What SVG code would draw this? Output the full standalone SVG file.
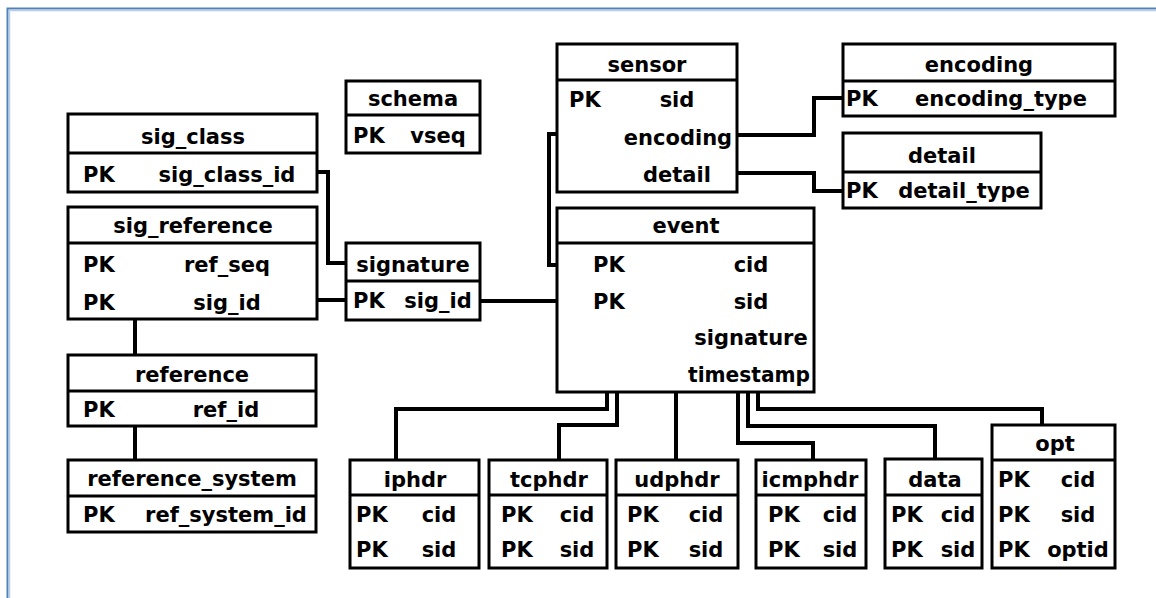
<svg xmlns="http://www.w3.org/2000/svg" width="1156" height="598" viewBox="0 0 1156 598">
<style>
.box{fill:#fff;stroke:#000;stroke-width:3}
.dv{stroke:#000;stroke-width:3}
.t{font-family:"DejaVu Sans","Verdana",sans-serif;font-weight:bold;font-size:21px;fill:#000}
.m{text-anchor:middle}
.conn{fill:none;stroke:#000;stroke-width:4}
</style>
<rect width="1156" height="598" fill="#fff"/>
<path d="M7.5,600 V8.5 H1160" fill="none" stroke="#4f81bd" stroke-width="2"/>
<path d="M9.5,600 V10.5 H1160" fill="none" stroke="#b9cde5" stroke-width="1.5"/>

<g id="connectors">
<path class="conn" d="M317,172 H328 V263 H346"/>
<path class="conn" d="M317,300 H346"/>
<path class="conn" d="M480,301 H557"/>
<path class="conn" d="M557,134 H549 V265 H557"/>
<path class="conn" d="M737,135 H814 V98 H843"/>
<path class="conn" d="M737,173 H814 V191 H843"/>
<path class="conn" d="M135,319 V355"/>
<path class="conn" d="M135,426 V460"/>
<path class="conn" d="M607,392 V409 H396 V460"/>
<path class="conn" d="M617,392 V425 H559 V460"/>
<path class="conn" d="M676,392 V460"/>
<path class="conn" d="M738,392 V443 H813 V460"/>
<path class="conn" d="M748,392 V426 H935 V459"/>
<path class="conn" d="M758,392 V409 H1042 V425"/>
</g>

<g id="schema">
<rect class="box" x="346" y="81" width="134" height="72"/>
<line class="dv" x1="346" y1="115" x2="480" y2="115"/>
<text class="t m" x="413" y="106">schema</text>
<text class="t" x="353" y="143">PK</text>
<text class="t m" x="438" y="143">vseq</text>
</g>

<g id="sig_class">
<rect class="box" x="68" y="114" width="249" height="78"/>
<line class="dv" x1="68" y1="153" x2="317" y2="153"/>
<text class="t m" x="193" y="144">sig_class</text>
<text class="t" x="83" y="182">PK</text>
<text class="t m" x="227" y="182">sig_class_id</text>
</g>

<g id="sig_reference">
<rect class="box" x="68" y="207" width="249" height="112"/>
<line class="dv" x1="68" y1="243" x2="317" y2="243"/>
<text class="t m" x="193" y="233">sig_reference</text>
<text class="t" x="83" y="272">PK</text>
<text class="t m" x="227" y="272">ref_seq</text>
<text class="t" x="83" y="310">PK</text>
<text class="t m" x="227" y="310">sig_id</text>
</g>

<g id="reference">
<rect class="box" x="68" y="355" width="248" height="71"/>
<line class="dv" x1="68" y1="391" x2="316" y2="391"/>
<text class="t m" x="192" y="382">reference</text>
<text class="t" x="83" y="417">PK</text>
<text class="t m" x="226" y="417">ref_id</text>
</g>

<g id="reference_system">
<rect class="box" x="68" y="460" width="248" height="72"/>
<line class="dv" x1="68" y1="496" x2="316" y2="496"/>
<text class="t m" x="192" y="486">reference_system</text>
<text class="t" x="83" y="522">PK</text>
<text class="t m" x="226" y="522">ref_system_id</text>
</g>

<g id="signature">
<rect class="box" x="346" y="243" width="134" height="77"/>
<line class="dv" x1="346" y1="281" x2="480" y2="281"/>
<text class="t m" x="413" y="272">signature</text>
<text class="t" x="353" y="308">PK</text>
<text class="t m" x="438" y="308">sig_id</text>
</g>

<g id="sensor">
<rect class="box" x="557" y="44" width="180" height="148"/>
<line class="dv" x1="557" y1="80" x2="737" y2="80"/>
<text class="t m" x="647" y="72">sensor</text>
<text class="t" x="569" y="107">PK</text>
<text class="t m" x="677" y="107">sid</text>
<text class="t m" x="678" y="145">encoding</text>
<text class="t m" x="677" y="182">detail</text>
</g>

<g id="event">
<rect class="box" x="557" y="208" width="257" height="184"/>
<line class="dv" x1="557" y1="243" x2="814" y2="243"/>
<text class="t m" x="686" y="233">event</text>
<text class="t" x="593" y="272">PK</text>
<text class="t m" x="751" y="272">cid</text>
<text class="t" x="593" y="309">PK</text>
<text class="t m" x="751" y="309">sid</text>
<text class="t m" x="751" y="345">signature</text>
<text class="t m" x="749" y="382" textLength="122" lengthAdjust="spacingAndGlyphs">timestamp</text>
</g>

<g id="encoding">
<rect class="box" x="843" y="44" width="272" height="72"/>
<line class="dv" x1="843" y1="81" x2="1115" y2="81"/>
<text class="t m" x="979" y="72">encoding</text>
<text class="t" x="846" y="106">PK</text>
<text class="t m" x="1001" y="106">encoding_type</text>
</g>

<g id="detail">
<rect class="box" x="843" y="133" width="198" height="75"/>
<line class="dv" x1="843" y1="172" x2="1041" y2="172"/>
<text class="t m" x="942" y="163">detail</text>
<text class="t" x="846" y="198">PK</text>
<text class="t m" x="964" y="198">detail_type</text>
</g>

<g id="iphdr">
<rect class="box" x="350" y="460" width="129" height="108"/>
<line class="dv" x1="350" y1="495" x2="479" y2="495"/>
<text class="t m" x="415" y="487">iphdr</text>
<text class="t" x="356" y="522">PK</text>
<text class="t m" x="439" y="522">cid</text>
<text class="t" x="356" y="557">PK</text>
<text class="t m" x="439" y="557">sid</text>
</g>

<g id="tcphdr">
<rect class="box" x="489" y="460" width="118" height="108"/>
<line class="dv" x1="489" y1="495" x2="607" y2="495"/>
<text class="t m" x="549" y="487">tcphdr</text>
<text class="t" x="501" y="522">PK</text>
<text class="t m" x="577" y="522">cid</text>
<text class="t" x="501" y="557">PK</text>
<text class="t m" x="577" y="557">sid</text>
</g>

<g id="udphdr">
<rect class="box" x="616" y="460" width="122" height="108"/>
<line class="dv" x1="616" y1="495" x2="738" y2="495"/>
<text class="t m" x="677" y="487">udphdr</text>
<text class="t" x="627" y="522">PK</text>
<text class="t m" x="706" y="522">cid</text>
<text class="t" x="627" y="557">PK</text>
<text class="t m" x="706" y="557">sid</text>
</g>

<g id="icmphdr">
<rect class="box" x="756" y="460" width="110" height="108"/>
<line class="dv" x1="756" y1="495" x2="866" y2="495"/>
<text class="t m" x="810" y="487">icmphdr</text>
<text class="t" x="768" y="522">PK</text>
<text class="t m" x="840" y="522">cid</text>
<text class="t" x="768" y="557">PK</text>
<text class="t m" x="840" y="557">sid</text>
</g>

<g id="data">
<rect class="box" x="885" y="459" width="97" height="109"/>
<line class="dv" x1="885" y1="495" x2="982" y2="495"/>
<text class="t m" x="935" y="487">data</text>
<text class="t" x="891" y="522">PK</text>
<text class="t m" x="958" y="522">cid</text>
<text class="t" x="891" y="557">PK</text>
<text class="t m" x="958" y="557">sid</text>
</g>

<g id="opt">
<rect class="box" x="992" y="425" width="123" height="143"/>
<line class="dv" x1="992" y1="460" x2="1115" y2="460"/>
<text class="t m" x="1055" y="451">opt</text>
<text class="t" x="998" y="487">PK</text>
<text class="t m" x="1078" y="487">cid</text>
<text class="t" x="998" y="522">PK</text>
<text class="t m" x="1078" y="522">sid</text>
<text class="t" x="998" y="557">PK</text>
<text class="t m" x="1078" y="557">optid</text>
</g>
</svg>
